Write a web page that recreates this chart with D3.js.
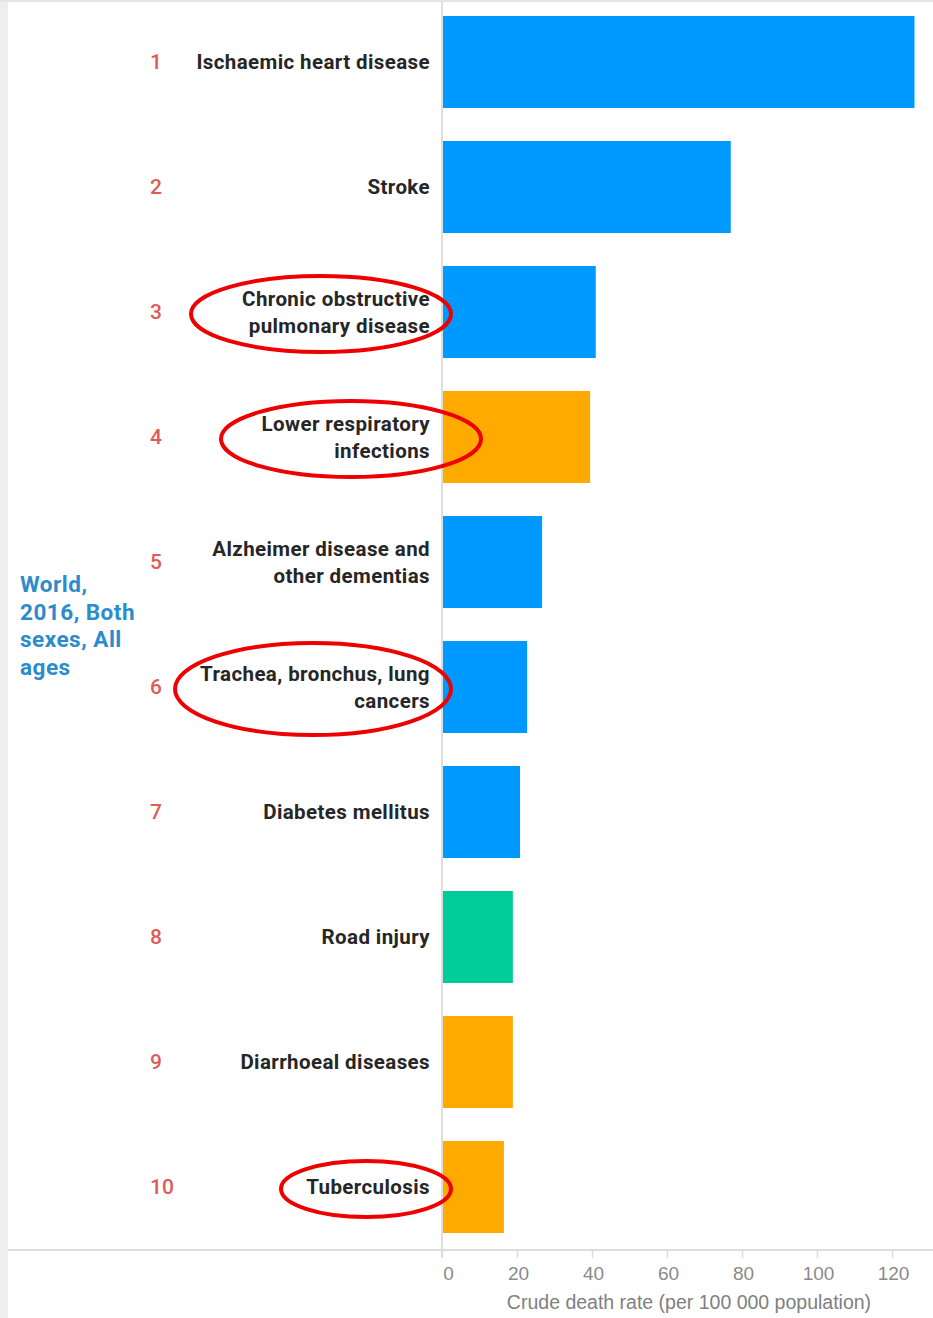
<!DOCTYPE html>
<html><head><meta charset="utf-8">
<script src="https://cdn.jsdelivr.net/npm/d3@7"></script>
<style>
html,body{margin:0;padding:0;background:#fff;}
svg{display:block;font-family:Roboto, "Noto Sans", sans-serif;}
</style></head>
<body>
<svg id="chart" width="933" height="1318"></svg>
<script>
const ranks = [1,2,3,4,5,6,7,8,9,10];
const categories = [
  ["Ischaemic heart disease"],
  ["Stroke"],
  ["Chronic obstructive","pulmonary disease"],
  ["Lower respiratory","infections"],
  ["Alzheimer disease and","other dementias"],
  ["Trachea, bronchus, lung","cancers"],
  ["Diabetes mellitus"],
  ["Road injury"],
  ["Diarrhoeal diseases"],
  ["Tuberculosis"]
];
const values = [126, 77, 41, 39.5, 26.7, 22.7, 20.8, 18.9, 18.9, 16.5];
const groups = ["ncd","ncd","ncd","comm","ncd","ncd","ncd","inj","comm","comm"];
const xTicks = [0,20,40,60,80,100,120];
const xTitle = "Crude death rate (per 100 000 population)";
const sideLabel = ["World,","2016, Both","sexes, All","ages"];
// highlighted categories (ellipse annotations): index, half-width, half-height, offset of centre left of label edge
const highlights = [[2,130,38,109],[3,130,38,79],[5,138,46,117],[9,85,28,64]];

const colors = {ncd:"#0099ff", comm:"#ffaa00", inj:"#00cc99"};

const svg = d3.select("#chart");
const W = 933, H = 1318;
const x0 = 442, x1 = 892;
const topY = 16, axisY = 1250;

// background frame pieces
svg.append("rect").attr("x",0).attr("y",0).attr("width",8).attr("height",H).attr("fill","#eeeeee");
svg.append("rect").attr("x",0).attr("y",0).attr("width",W).attr("height",2).attr("fill","#e4e4e4");

const x = d3.scaleLinear().domain([0,120]).range([x0,x1]);
const y = d3.scaleBand().domain(d3.range(categories.length))
  .range([topY, topY + 125*9 + 92]).paddingInner(33/125).paddingOuter(0);

// vertical zero line
svg.append("line").attr("x1",x(0)).attr("x2",x(0)).attr("y1",2).attr("y2",axisY+8)
  .attr("stroke","#dddddd").attr("stroke-width",2);

// bars
svg.selectAll("rect.bar").data(values).join("rect")
  .attr("class","bar")
  .attr("x", x(0)+1)
  .attr("y", (d,i)=>y(i))
  .attr("width", d=>x(d)-x(0)-1)
  .attr("height", y.bandwidth())
  .attr("fill", (d,i)=>colors[groups[i]]);

// bottom axis
svg.append("line").attr("x1",8).attr("x2",W).attr("y1",axisY).attr("y2",axisY)
  .attr("stroke","#dddddd").attr("stroke-width",2);
const ax = svg.append("g").attr("transform",`translate(0,${axisY})`)
  .call(d3.axisBottom(x).tickValues(xTicks).tickSize(8).tickPadding(9).tickSizeOuter(0));
ax.select(".domain").remove();
ax.selectAll(".tick line").attr("stroke","#dddddd").attr("stroke-width",1.5);
ax.selectAll(".tick text").attr("fill","#8a8a8a").attr("font-size",19)
  .attr("font-family","'Liberation Sans', Arial, sans-serif")
  .attr("dx",(d)=>d===0?6:1);
svg.append("text").attr("x",689).attr("y",1309).attr("text-anchor","middle")
  .attr("font-family","'Liberation Sans', Arial, sans-serif")
  .attr("fill","#808080").attr("font-size",19.5).text(xTitle);

// rank numbers
svg.selectAll("text.rank").data(ranks).join("text").attr("class","rank")
  .attr("x",150).attr("y",(d,i)=>y(i)+y.bandwidth()/2+7)
  .attr("fill","#e05a5a").attr("font-size",21).attr("font-weight",500)
  .text(d=>d);

// category labels
const lab = svg.selectAll("text.cat").data(categories).join("text").attr("class","cat")
  .attr("text-anchor","end").attr("fill","#262626").attr("font-size",20.5).attr("font-weight",700)
  .attr("letter-spacing",0.4)
  .attr("x",430)
  .attr("y",(d,i)=>y(i)+y.bandwidth()/2 + 7 - (d.length-1)*13.5);
lab.selectAll("tspan").data(d=>d).join("tspan").attr("x",430).attr("dy",(d,j)=>j?27:0).text(d=>d);

// side label
svg.append("text").attr("fill","#2b8ccc").attr("font-size",22.5).attr("font-weight",700)
  .attr("letter-spacing",0.5)
  .selectAll("tspan").data(sideLabel).join("tspan")
  .attr("x",20).attr("y",(d,i)=>592+i*27.5).text(d=>d);

// highlight ellipses
svg.selectAll("ellipse.hl").data(highlights).join("ellipse").attr("class","hl")
  .attr("cx",d=>430 - d[3]).attr("cy",d=>y(d[0])+y.bandwidth()/2+2)
  .attr("rx",d=>d[1]).attr("ry",d=>d[2])
  .attr("fill","none").attr("stroke","#ee0000").attr("stroke-width",4);
</script>
</body></html>
